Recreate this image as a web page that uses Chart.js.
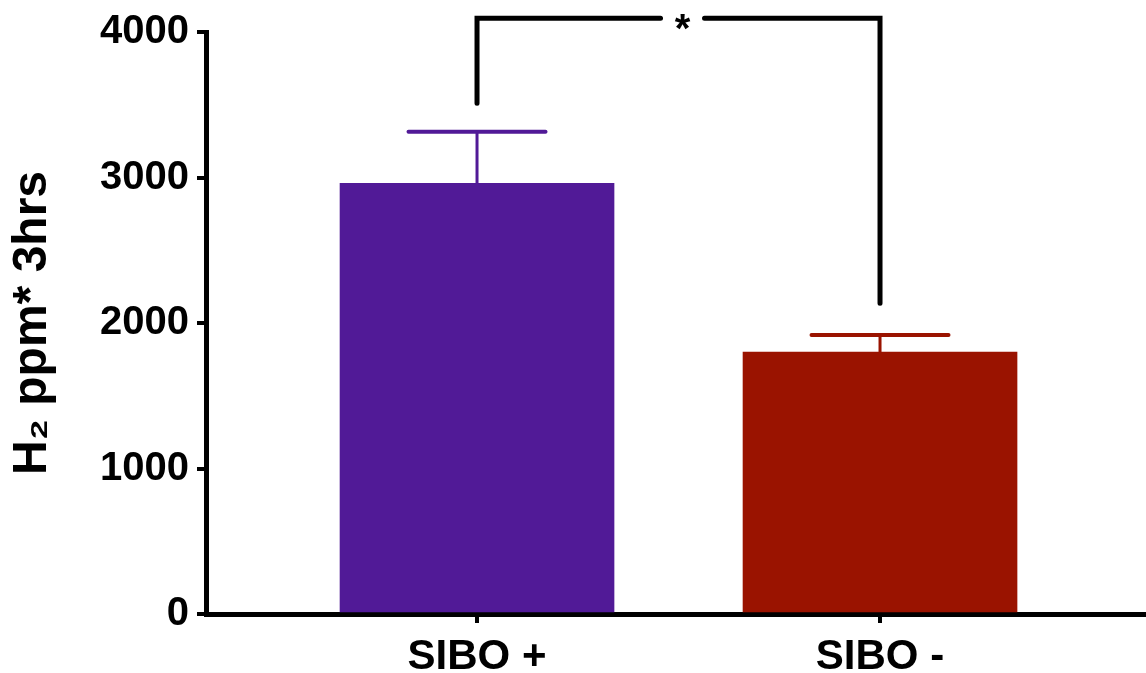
<!DOCTYPE html>
<html>
<head>
<meta charset="utf-8">
<script src="https://cdn.jsdelivr.net/npm/chart.js@4/dist/chart.umd.min.js"></script>
<style>
  html, body { margin: 0; padding: 0; background: #ffffff; }
  #wrap { width: 1146px; height: 673px; }
</style>
</head>
<body>
<div id="wrap"><canvas id="c" width="1146" height="673"></canvas></div>
<script>
// ---- data ----
const categories = ['SIBO +', 'SIBO -'];
const positions = [1, 2];
const means = [2960, 1800];
const sems = [355, 118];
const barColors = ['#511A97', '#9A1300'];
const yTicks = [0, 1000, 2000, 3000, 4000];
const yTitle = 'H\u2082 ppm* 3hrs';
// significance bracket: left leg bottom, right leg bottom, top (data units)
const bracketLevels = [3510, 2135, 4095];
const sigLabel = '*';

const FONT = "'Liberation Sans', Arial, Helvetica, sans-serif";

const extras = {
  id: 'extras',
  afterDatasetsDraw(chart) {
    const ctx = chart.ctx;
    const x = chart.scales.x, y = chart.scales.y;
    const meta = chart.getDatasetMeta(0);
    ctx.save();
    // error bars
    meta.data.forEach((bar, i) => {
      const cx = x.getPixelForValue(positions[i]);
      const yTop = y.getPixelForValue(means[i] + sems[i]);
      const yMean = y.getPixelForValue(means[i]);
      const half = bar.width * 0.25;
      ctx.strokeStyle = barColors[i];
      ctx.lineCap = 'butt';
      ctx.lineWidth = 3;
      ctx.beginPath(); ctx.moveTo(cx, yMean); ctx.lineTo(cx, yTop); ctx.stroke();
      ctx.lineWidth = 4;
      ctx.lineCap = 'round';
      ctx.beginPath(); ctx.moveTo(cx - half, yTop); ctx.lineTo(cx + half, yTop); ctx.stroke();
    });
    // significance bracket
    const xl = x.getPixelForValue(positions[0]);
    const xr = x.getPixelForValue(positions[1]);
    const yl = y.getPixelForValue(bracketLevels[0]);
    const yr = y.getPixelForValue(bracketLevels[1]);
    const yt = y.getPixelForValue(bracketLevels[2]);
    const xm = (xl + xr) / 2 + 4;
    ctx.strokeStyle = '#000';
    ctx.lineWidth = 5;
    ctx.lineCap = 'round';
    ctx.lineJoin = 'miter';
    ctx.beginPath(); ctx.moveTo(xl, yl); ctx.lineTo(xl, yt); ctx.lineTo(xm - 22, yt); ctx.stroke();
    ctx.beginPath(); ctx.moveTo(xm + 22, yt); ctx.lineTo(xr, yt); ctx.lineTo(xr, yr); ctx.stroke();
    ctx.fillStyle = '#000';
    ctx.font = 'bold 40px ' + FONT;
    ctx.textAlign = 'center';
    ctx.textBaseline = 'alphabetic';
    ctx.fillText(sigLabel, xm, yt + 24);
    ctx.restore();
  }
};

new Chart(document.getElementById('c'), {
  type: 'bar',
  data: {
    datasets: [{
      data: positions.map((p, i) => ({ x: p, y: means[i] })),
      backgroundColor: barColors,
      borderWidth: 0,
      barThickness: 274
    }]
  },
  options: {
    responsive: false,
    animation: false,
    devicePixelRatio: 1,
    layout: { padding: { top: 32, right: 0, left: 0, bottom: 0 } },
    plugins: { legend: { display: false }, tooltip: { enabled: false } },
    scales: {
      x: {
        type: 'linear',
        min: 0.3275,
        max: 2.66,
        offset: false,
        afterBuildTicks(scale) { scale.ticks = positions.map(v => ({ value: v })); },
        afterFit(scale) { scale.height = 59; },
        ticks: {
          callback: (v) => categories[positions.indexOf(v)],
          color: '#000',
          font: { family: FONT, size: 42, weight: 'bold' },
          padding: 9,
          maxRotation: 0,
          autoSkip: false
        },
        grid: { offset: false, drawOnChartArea: false, drawTicks: true, tickLength: 9, color: '#000', lineWidth: 4 },
        border: { display: true, color: '#000', width: 5 }
      },
      y: {
        min: 0,
        max: 4000,
        afterBuildTicks(scale) { scale.ticks = yTicks.map(v => ({ value: v })); },
        afterFit(scale) { scale.width = 206; },
        ticks: {
          callback: (v) => String(v),
          color: '#000',
          font: { family: FONT, size: 40, weight: 'bold' },
          padding: 8
        },
        grid: { drawOnChartArea: false, drawTicks: true, tickLength: 9, color: '#000', lineWidth: 4 },
        border: { display: true, color: '#000', width: 5 },
        title: {
          display: true,
          text: yTitle,
          color: '#000',
          font: { family: FONT, size: 48, weight: 'bold' },
          padding: { top: 4, bottom: 0 }
        }
      }
    }
  },
  plugins: [extras]
});
</script>
</body>
</html>
